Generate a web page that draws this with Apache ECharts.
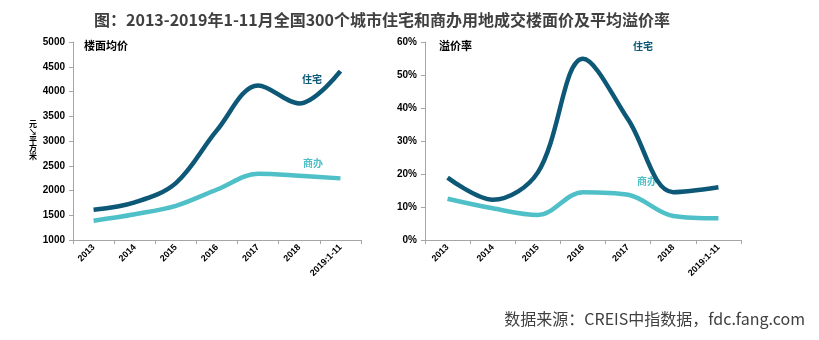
<!DOCTYPE html>
<html><head><meta charset="utf-8">
<script src="https://cdn.jsdelivr.net/npm/echarts@6/dist/echarts.min.js"></script>
<style>html,body{margin:0;padding:0;background:#fff}#c{width:819px;height:340px}</style>
</head><body><div id="c"></div>
<script>
const categories = ['2013','2014','2015','2016','2017','2018','2019:1-11'];
const priceResidential = [1610, 1760, 2150, 3220, 4120, 3760, 4410];
const priceCommercial = [1390, 1520, 1690, 2020, 2340, 2300, 2245];
const premiumResidential = [18.9, 12.2, 20.5, 54.9, 36.5, 14.5, 16.0];
const premiumCommercial = [12.5, 9.6, 7.6, 14.5, 13.7, 7.3, 6.6];
const priceTicks = {min: 1000, max: 5000, interval: 500};
const premiumTicks = {min: 0, max: 60, interval: 10};

const DARK = '#0d5877', LIGHT = '#4fc0c7';
const SM = 0.35;
const axisLbl = {color: '#000', fontSize: 10, fontWeight: 'bold', fontFamily: 'Liberation Sans, Arial'};
const xLbl = {color: '#000', fontSize: 9, fontWeight: 'bold', rotate: 45, interval: 0, fontFamily: 'Liberation Sans, Arial', margin: 6};
const axisLine = {show: true, lineStyle: {color: '#a6a6a6'}};
const tick = {show: true, length: 4, lineStyle: {color: '#a6a6a6'}};

const chart = echarts.init(document.getElementById('c'));
chart.setOption({
  animation: false,
  title: {text: '图：2013-2019年1-11月全国300个城市住宅和商办用地成交楼面价及平均溢价率', left: 89, top: 7,
    textStyle: {fontSize: 16, fontWeight: 'bold', color: '#404040', fontFamily: 'Noto Sans CJK SC'}},
  grid: [
    {left: 73, top: 42, width: 288, height: 198},
    {left: 425, top: 42, width: 316, height: 198}
  ],
  xAxis: [
    {type: 'category', gridIndex: 0, data: categories, boundaryGap: true, axisLine, axisTick: tick, axisLabel: xLbl},
    {type: 'category', gridIndex: 1, data: categories, boundaryGap: true, axisLine, axisTick: tick, axisLabel: xLbl}
  ],
  yAxis: [
    {type: 'value', gridIndex: 0, ...priceTicks, splitLine: {show: false}, axisLine, axisTick: tick,
      axisLabel: {...axisLbl, formatter: v => String(v)}},
    {type: 'value', gridIndex: 1, ...premiumTicks, splitLine: {show: false}, axisLine, axisTick: tick,
      axisLabel: {...axisLbl, formatter: '{value}%'}}
  ],
  series: [
    {type: 'line', xAxisIndex: 0, yAxisIndex: 0, data: priceResidential, smooth: SM, symbol: 'none', lineStyle: {color: DARK, width: 4.5}},
    {type: 'line', xAxisIndex: 0, yAxisIndex: 0, data: priceCommercial, smooth: SM, symbol: 'none', lineStyle: {color: LIGHT, width: 4.5}},
    {type: 'line', xAxisIndex: 1, yAxisIndex: 1, data: premiumResidential, smooth: SM, symbol: 'none', lineStyle: {color: DARK, width: 4.5}},
    {type: 'line', xAxisIndex: 1, yAxisIndex: 1, data: premiumCommercial, smooth: SM, symbol: 'none', lineStyle: {color: LIGHT, width: 4.5}}
  ],
  graphic: [
    {type: 'text', left: 84, top: 40, style: {text: '楼面均价', fontSize: 11, fontWeight: 'bold', fill: '#000', fontFamily: 'Noto Sans CJK SC'}},
    {type: 'text', left: 439, top: 40, style: {text: '溢价率', fontSize: 11, fontWeight: 'bold', fill: '#000', fontFamily: 'Noto Sans CJK SC'}},
    {type: 'text', left: 302, top: 74, style: {text: '住宅', fontSize: 10, fontWeight: 'bold', fill: DARK, fontFamily: 'Noto Sans CJK SC'}},
    {type: 'text', left: 303, top: 158, style: {text: '商办', fontSize: 10, fontWeight: 'bold', fill: LIGHT, fontFamily: 'Noto Sans CJK SC'}},
    {type: 'text', left: 633, top: 41, style: {text: '住宅', fontSize: 10, fontWeight: 'bold', fill: DARK, fontFamily: 'Noto Sans CJK SC'}},
    {type: 'text', left: 637, top: 176, style: {text: '商办', fontSize: 10, fontWeight: 'bold', fill: LIGHT, fontFamily: 'Noto Sans CJK SC'}},
    {type: 'text', left: 29, top: 120, style: {text: '元\n↘\n平\n方\n米', fontSize: 8, lineHeight: 8, fontWeight: 'bold', fill: '#000', fontFamily: 'Noto Sans CJK SC'}},
    {type: 'text', right: 14, top: 311, style: {text: '数据来源：CREIS中指数据，fdc.fang.com', fontSize: 16, fill: '#404040', fontFamily: 'Noto Sans CJK SC'}}
  ]
});
</script></body></html>
